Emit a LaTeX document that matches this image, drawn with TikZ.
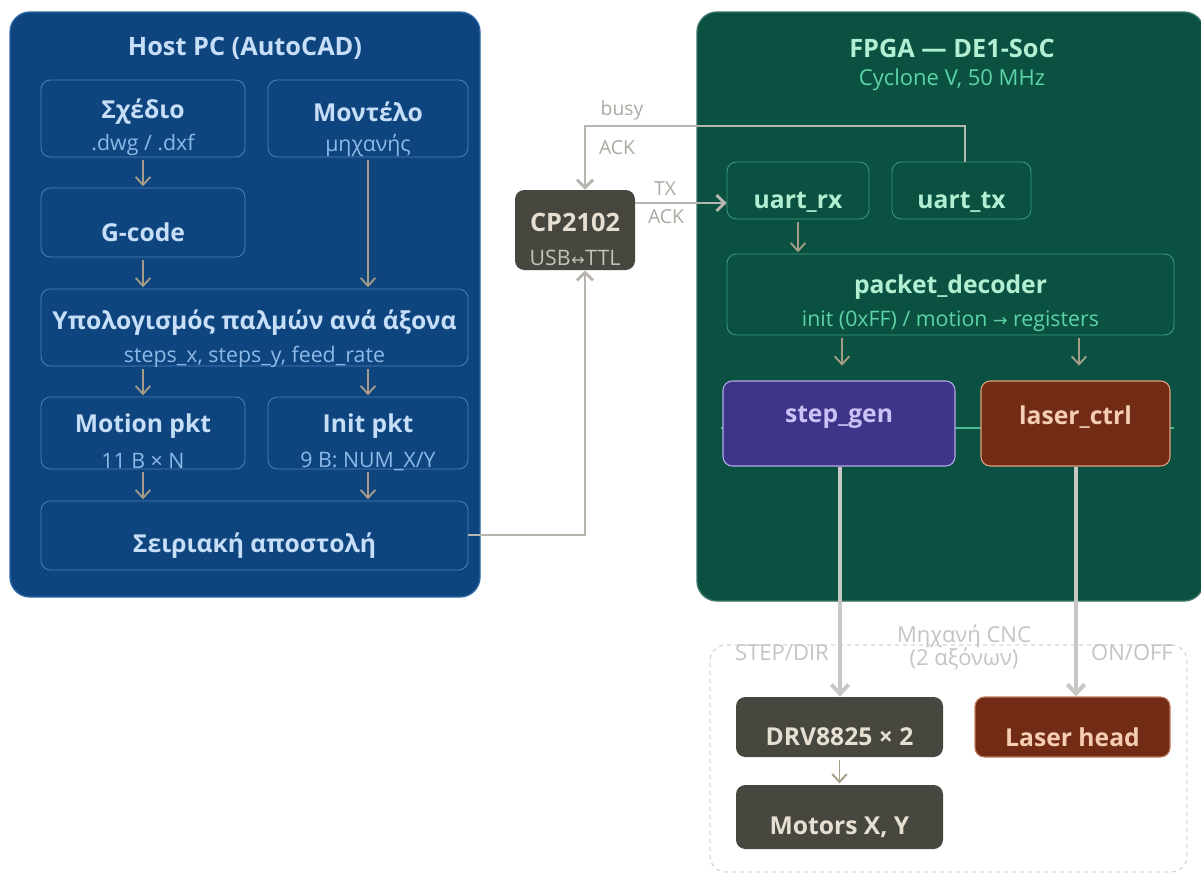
\documentclass[tikz,border=0pt]{standalone}
\usepackage{fontspec}
\setmainfont{Open Sans}
\newfontfamily\symfont{DejaVu Sans}
\usetikzlibrary{arrows.meta,fit,calc}
\definecolor{pcblue}{HTML}{0E457E}
\definecolor{pcedge}{HTML}{2C66A4}
\definecolor{bbord}{HTML}{4B82BE}
\definecolor{btext}{HTML}{C6DEF8}
\definecolor{bsubc}{HTML}{8DB9E8}
\definecolor{arrc}{HTML}{A59C88}
\definecolor{wire}{HTML}{B8B5AE}
\definecolor{wlab}{HTML}{ABA9A2}
\definecolor{fgreen}{HTML}{0A5142}
\definecolor{gbord}{HTML}{3D9C7E}
\definecolor{gtext}{HTML}{B2EFD2}
\definecolor{gsub}{HTML}{5DD3A6}
\definecolor{chip}{HTML}{47463F}
\definecolor{chiptxt}{HTML}{E6DFD2}
\definecolor{chipsub}{HTML}{C4C2BC}
\definecolor{purp}{HTML}{3E3589}
\definecolor{purpb}{HTML}{B3ABEA}
\definecolor{purpt}{HTML}{CBC3F8}
\definecolor{rust}{HTML}{722B14}
\definecolor{rustb}{HTML}{E2A07E}
\definecolor{rustt}{HTML}{F5CDB2}
\definecolor{cncl}{HTML}{D6D6D6}
\definecolor{cnct}{HTML}{C4C4C4}
\definecolor{thick}{HTML}{C9C7C3}
\begin{document}
\begin{tikzpicture}[x=0.75pt,y=-0.75pt,
  panel/.style={line width=1pt, rounded corners=15pt, inner sep=0pt},
  bbox/.style={draw=bbord, line width=0.6pt, rounded corners=7pt, inner sep=0pt},
  gbox/.style={draw=gbord, line width=0.6pt, rounded corners=7pt, inner sep=0pt},
  hbox/.style={rounded corners=7pt, inner sep=0pt},
  ttl/.style={font=\bfseries\fontsize{19}{21}\selectfont, inner sep=0pt},
  main/.style={font=\bfseries\fontsize{18.5}{20}\selectfont, text=btext, inner sep=0pt},
  sub/.style={font=\fontsize{16}{18}\selectfont, text=bsubc, inner sep=0pt},
  lab/.style={font=\fontsize{14.5}{16}\selectfont, text=wlab, inner sep=0pt},
  clab/.style={font=\fontsize{16.5}{18}\selectfont, text=cnct, inner sep=0pt},
  arr/.style={draw=arrc, line width=1.4pt, shorten <=2pt, shorten >=1pt, -{Straight Barb[length=6pt,width=11pt]}},
  warr/.style={draw=wire, line width=2.2pt, -{Straight Barb[length=6pt,width=12pt]}},
  tarr/.style={draw=thick, line width=3pt, -{Straight Barb[length=7pt,width=13pt]}}
]
\useasboundingbox (0,0) rectangle (1201,875);
\fill[white] (0,0) rectangle (1201,875);

% ---------------- Host PC panel ----------------
\node[panel, fill=pcblue, draw=pcedge, fit={(10,12) (480,597)}] (host) {};
\node[ttl, text=btext] (hostT) at (245,48) {Host PC (AutoCAD)};

\node[bbox, fit={(41,80) (245,157)}] (sx) {};
\node[main] (sxT) at (143,112) {Σχέδιο};
\node[sub] (sxS) at (143,145) {.dwg / .dxf};

\node[bbox, fit={(268,80) (468,157)}] (mt) {};
\node[main] (mtT) at (368,112) {Μοντέλο};
\node[sub] (mtS) at (368,145) {μηχανής};

\node[bbox, fit={(41,188) (245,257)}] (gc) {};
\node[main] (gcT) at (143,232) {G-code};

\node[bbox, fit={(41,289) (468,366)}] (yp) {};
\node[main] (ypT) at (254.5,323) {Υπολογισμός παλμών ανά άξονα};
\node[sub] (ypS) at (254.5,357) {steps\_x, steps\_y, feed\_rate};

\node[bbox, fit={(41,397) (245,469)}] (mp) {};
\node[main] (mpT) at (143,426) {Motion pkt};
\node[sub] (mpS) at (143,461) {11 B × N};

\node[bbox, fit={(268,397) (468,469)}] (ip) {};
\node[main] (ipT) at (368,426) {Init pkt};
\node[sub] (ipS) at (368,461) {9 B: NUM\_X/Y};

\node[bbox, fit={(41,501) (468,570)}] (sa) {};
\node[main] (saT) at (254.5,546) {Σειριακή αποστολή};

\draw[arr] (sx.south) -- (gc.north);
\draw[arr] (mt.south) -- (mt.south |- yp.north);
\draw[arr] (gc.south) -- (gc.south |- yp.north);
\draw[arr] (mp.north |- yp.south) -- (mp.north);
\draw[arr] (ip.north |- yp.south) -- (ip.north);
\draw[arr] (mp.south) -- (mp.south |- sa.north);
\draw[arr] (ip.south) -- (ip.south |- sa.north);

% ---------------- FPGA panel ----------------
\node[panel, fill=fgreen, draw=fgreen!80!white, fit={(697,12) (1204,601)}] (fpga) {};
\node[ttl, text=gtext] (fpgaT) at (952,48) {FPGA — DE1-SoC};
\node[font=\fontsize{16.5}{18}\selectfont, text=gsub, inner sep=0pt] (fpgaS) at (952,80) {Cyclone V, 50 MHz};

\node[gbox, fit={(727,162) (869,219)}] (urx) {};
\node[main, text=gtext] (urxT) at (798,202) {uart\_rx};
\node[gbox, fit={(892,162) (1031,219)}] (utx) {};
\node[main, text=gtext] (utxT) at (961.5,202) {uart\_tx};

\node[gbox, fit={(727,254) (1174,335)}] (pd) {};
\node[main, text=gtext] (pdT) at (950.5,287) {packet\_decoder};
\node[sub, text=gsub] (pdS) at (950.5,321) {init (0xFF) / motion {\symfont\fontsize{13}{15}\selectfont →} registers};

\coordinate (busL) at (721,428);
\coordinate (busR) at (1174,428);
\draw[draw=gsub!80!fgreen, line width=0.8pt] (busL) -- (busR);

\node[hbox, fill=purp, draw=purpb, line width=0.8pt, fit={(723,381) (955,466)}] (sg) {};
\node[main, text=purpt] (sgT) at (839,417) {step\_gen};
\node[hbox, fill=rust, draw=rustb, line width=0.8pt, fit={(981,381) (1170,466)}] (lc) {};
\node[main, text=rustt] (lcT) at (1075.5,417) {laser\_ctrl};

\draw[arr] (urx.south) -- (urx.south |- pd.north);
\draw[arr] (842,335) -- (842,367) coordinate (a1);
\draw[arr] (1079,335) -- (1079,367) coordinate (a2);

% ---------------- CP2102 ----------------
\node[hbox, fill=chip, fit={(515,190) (635,270)}] (cp) {};
\node[font=\bfseries\fontsize{19}{21}\selectfont, text=chiptxt, inner sep=0pt] (cpT) at (575,222) {CP2102};
\node[font=\fontsize{16}{18}\selectfont, text=chipsub, inner sep=0pt] (cpS) at (575,258) {USB\kern0.5pt{\symfont\fontsize{12}{14}\selectfont ↔}\kern0.5pt TTL};

\coordinate (sa1) at (585,535);
\draw[warr] (sa.east |- sa1) -- (sa1) -- (cp.south -| sa1);
\draw[warr] (cp.east |- 0,203) -- (urx.west |- 0,203);
\node[lab] (txL) at (665,189) {TX};
\node[lab] (ackL) at (666,217) {ACK};

\coordinate (bt1) at (965,126);
\coordinate (bt2) at (585,126);
\draw[warr] (utx.north -| bt1) -- (bt1) -- (bt2) -- (cp.north -| bt2);
\node[lab] (busyL) at (622,110) {busy};
\node[lab] (ack2L) at (617,148) {ACK};

% ---------------- CNC machine ----------------
\node[draw=cncl, dashed, line width=0.9pt, rounded corners=12pt, inner sep=0pt, fit={(710,645) (1187,872)}] (cnc) {};
\node[clab, align=center] (cncT) at (964,647) {Μηχανή CNC\\[-1pt](2 αξόνων)};

\node[hbox, fill=chip, fit={(736,697) (943,757)}] (drv) {};
\node[main, text=chiptxt] (drvT) at (839.5,737) {DRV8825 × 2};
\node[hbox, fill=chip, fit={(736,785) (943,849)}] (mot) {};
\node[main, text=chiptxt] (motT) at (839.5,827) {Motors X, Y};
\node[hbox, fill=rust, draw=rustb!70!rust, line width=0.8pt, fit={(975,697) (1170,757)}] (lh) {};
\node[main, text=rustt] (lhT) at (1072.5,737) {Laser head};

\draw[tarr] (sg.south -| 840,0) -- (drv.north -| 840,0);
\draw[tarr] (lc.south -| 1076,0) -- (lh.north -| 1076,0);
\draw[arr] (drv.south) -- (mot.north);
\node[clab] (stL) at (782,653) {STEP/DIR};
\node[clab] (onL) at (1132,653) {ON/OFF};
\end{tikzpicture}
\end{document}
